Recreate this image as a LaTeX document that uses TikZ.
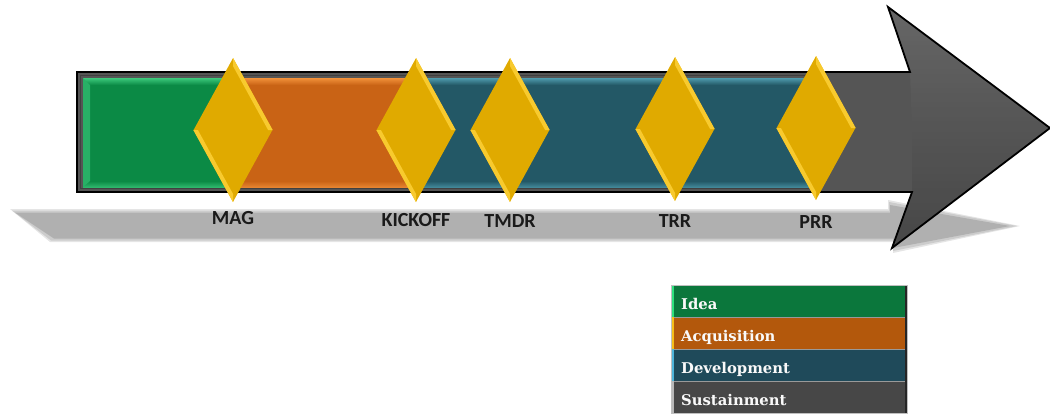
\documentclass[tikz,border=0pt]{standalone}
\usepackage{fontspec}
\newfontfamily\calib{Carlito}
\newfontfamily\legfont{DejaVu Serif}
\usetikzlibrary{shapes.geometric,calc}
\definecolor{gbase}{HTML}{0B8A45}
\definecolor{gtop}{HTML}{3CC97C}
\definecolor{obase}{HTML}{C96315}
\definecolor{otop}{HTML}{F2913A}
\definecolor{tbase}{HTML}{235866}
\definecolor{ttop}{HTML}{4E9BAD}
\definecolor{abase}{HTML}{555555}
\definecolor{dia}{HTML}{E0AA00}
\definecolor{dialt}{HTML}{F8CA2E}
\definecolor{lgI}{HTML}{0B773C}
\definecolor{lgA}{HTML}{B3580C}
\definecolor{lgD}{HTML}{1F4A5A}
\definecolor{lgS}{HTML}{474747}
\definecolor{stI}{HTML}{2EE07E}
\definecolor{stA}{HTML}{F6BE1A}
\definecolor{stD}{HTML}{4FB5DA}
\definecolor{stS}{HTML}{B8B8B8}
\definecolor{lbl}{HTML}{1A1A1A}
\tikzset{
  milestone/.style={diamond, draw=none, fill=dia, inner sep=0pt, minimum width=79pt, minimum height=144pt},
  mlabel/.style={anchor=base, inner sep=0pt, font=\calib\bfseries\fontsize{20}{24}\selectfont, text=lbl},
  legrow/.style={rectangle, anchor=north west, inner sep=0pt, minimum width=236pt, minimum height=31.5pt},
  legtext/.style={anchor=base west, inner sep=0pt, text=white!95!gray, font=\legfont\bfseries\fontsize{14.8}{18}\selectfont},
}
\newcommand{\bevel}[1]{%
  \fill[dialt] (#1.north) -- (#1.east) -- ($(#1.east)+(-4.6,0)$) -- ($(#1.north)+(0,8.3)$) -- cycle;
  \fill[dialt] (#1.west) -- (#1.south) -- ($(#1.south)+(0,-8.3)$) -- ($(#1.west)+(4.6,0)$) -- cycle;}
\begin{document}
\begin{tikzpicture}[x=1pt,y=-1pt]
\useasboundingbox (0,0) rectangle (1050,413);
% shadow
\fill[gray!20] (10,209) -- (888,209) -- (888,200) -- (1020,226) -- (893,253) -- (893,242) -- (50,242) -- cycle;
\fill[gray!40] (12,210.5) -- (889,210.5) -- (889,202) -- (1017,226) -- (893,251) -- (893,240.5) -- (51,240.5) -- cycle;
\fill[gray!62] (15,212.5) -- (890,212.5) -- (890,205) -- (1010,226) -- (893,248) -- (893,238.5) -- (54,238.5) -- cycle;
% arrow
\fill[abase] (77,72) -- (910,72) -- (888,7) -- (1050,128) -- (892,248) -- (912,192) -- (77,192) -- cycle;
\shade[top color=white!15!abase, bottom color=abase, opacity=0.7] (910,72) -- (888,7) -- (1050,128) -- (912,128) -- cycle;
\shade[top color=abase, bottom color=black!20!abase, opacity=0.8] (912,128) -- (1050,128) -- (892,248) -- (912,192) -- cycle;
\draw[black, line width=1.8pt, line join=miter] (77,72) -- (910,72) -- (888,7) -- (1050,128) -- (892,248) -- (912,192) -- (77,192) -- cycle;
\draw[black!75, line width=1.2pt] (816,75.5) -- (80.5,75.5) -- (80.5,188.5) -- (816,188.5);
% segments
\fill[gbase] (83,78) rectangle (233,187);
\fill[obase] (233,78) rectangle (416,187);
\fill[tbase] (416,78) rectangle (816,187);
\shade[top color=gtop, bottom color=gbase] (83,78) rectangle (233,85);
\shade[top color=otop, bottom color=obase] (233,78) rectangle (416,85);
\shade[top color=ttop, bottom color=tbase] (416,78) rectangle (816,85);
\shade[top color=gbase, bottom color=gtop!70!gbase] (83,181) rectangle (233,187);
\shade[top color=obase, bottom color=otop!70!obase] (233,181) rectangle (416,187);
\shade[top color=tbase, bottom color=ttop!70!tbase] (416,181) rectangle (816,187);
\fill[gtop!60!gbase] (83,78) -- (90,85) -- (90,181) -- (83,187) -- cycle;
% milestones
\node[milestone] (mag) at (233,130) {};
\node[milestone] (kick) at (416,130) {};
\node[milestone] (tmdr) at (510,130) {};
\node[milestone] (trr) at (675,129) {};
\node[milestone] (prr) at (816,128) {};
\bevel{mag}\bevel{kick}\bevel{tmdr}\bevel{trr}\bevel{prr}
\node[mlabel] (lmag) at (233,224) {MAG};
\node[mlabel] (lkick) at (416,226) {KICKOFF};
\node[mlabel] (ltmdr) at (510,227) {TMDR};
\node[mlabel] (ltrr) at (675,227) {TRR};
\node[mlabel] (lprr) at (816,228) {PRR};
% legend
\node[legrow, fill=lgI] (rI) at (671,285) {};
\node[legrow, fill=lgA] (rA) at (671,317) {};
\node[legrow, fill=lgD] (rD) at (671,349) {};
\node[legrow, fill=lgS] (rS) at (671,381) {};
\foreach \r/\c in {rI/stI, rA/stA, rD/stD, rS/stS}{
  \fill[\c] (\r.north west) rectangle ($(\r.south west)+(3,0)$);
  \fill[black!85] ($(\r.north east)+(-2.5,0)$) rectangle (\r.south east);
  \draw[black!40, line width=0.6pt] (\r.south west) -- (\r.south east);
}
\draw[gray!50, line width=0.6pt] (rI.north west) rectangle (rS.south east);
\node[legtext] (tI) at (681,309) {Idea};
\node[legtext] (tA) at (681,341) {Acquisition};
\node[legtext] (tD) at (681,373) {Development};
\node[legtext] (tS) at (681,405) {Sustainment};
\end{tikzpicture}
\end{document}
